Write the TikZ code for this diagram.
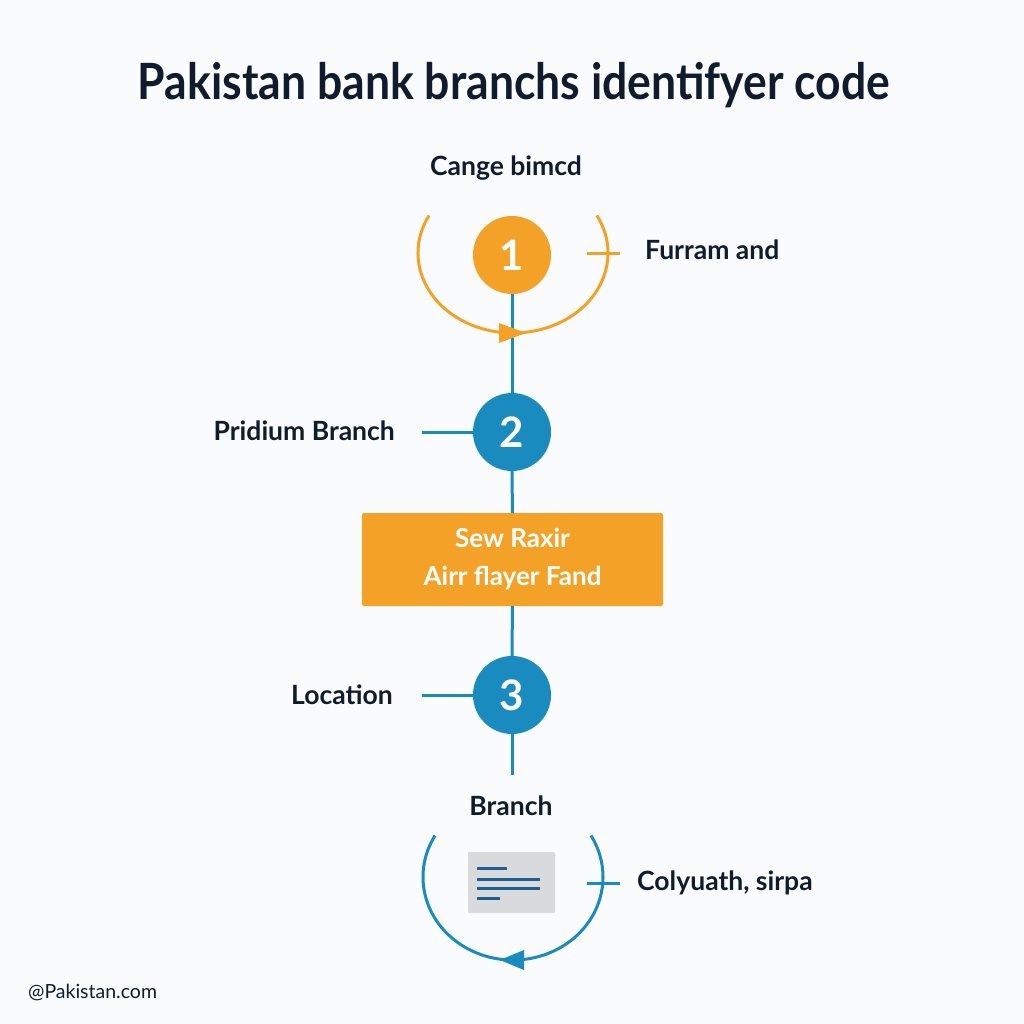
\documentclass[tikz,border=0pt]{standalone}
\usepackage{fontspec}
\setmainfont{Lato}
\usetikzlibrary{arrows.meta}
\definecolor{bg}{HTML}{FAFBFC}
\definecolor{navy}{HTML}{101C2E}
\definecolor{orng}{HTML}{F4A227}
\definecolor{blu}{HTML}{1A8BBF}
\definecolor{iconbg}{HTML}{D9DADC}
\definecolor{iconln}{HTML}{1D5F90}
\begin{document}
\begin{tikzpicture}[x=1pt,y=-1pt,
  lbl/.style={text=navy,font=\fontsize{26.5}{30}\selectfont\bfseries,inner sep=0pt},
  num/.style={circle,minimum size=78pt,inner sep=0pt,text=white,font=\fontsize{42}{44}\selectfont\bfseries},
  conn/.style={draw=blu,line width=3pt},
  oconn/.style={draw=orng,line width=3pt}]
\fill[bg] (0,0) rectangle (1024,1024);
\useasboundingbox (0,0) rectangle (1024,1024);
% title
\node[text=navy,font=\fontsize{50}{54}\selectfont\bfseries,inner sep=0pt] (title) at (514,85) {\scalebox{0.89}[1]{Pakistan bank branchs identifyer code}};
% step 1
\node[lbl,anchor=center] (l1) at (506,168) {Cange bimcd};
\node[num,fill=orng] (c1) at (512,255) {1};
\draw[oconn] (513,253) ++(208:95 and 80) arc[start angle=208,end angle=-28,x radius=95,y radius=80];
\coordinate (o1a) at (587,253);
\coordinate (o1b) at (620,253);
\draw[oconn] (o1a) -- (o1b);
\node[lbl,anchor=west] (r1) at (645,250) {Furram and};
% step 2
\node[num,fill=blu] (c2) at (512,432) {2};
\node[lbl,anchor=east] (l2) at (395,431) {Pridium Branch};
\draw[conn] (c1) -- (c2);
\draw[conn] (l2.east) ++(27,1) coordinate (l2c) -- (c2.west);
\fill[orng] (499,323) -- (526,333) -- (499,343) -- cycle;
% box
\node[fill=orng,minimum width=301pt,minimum height=93pt,inner sep=0pt,rounded corners=2pt,
  text=white,align=center,font=\fontsize{26}{38}\selectfont\bfseries] (box) at (512.5,559.5) {Sew Raxir\\Airr flayer Fand};
\draw[conn] (c2) -- (box);
% step 3
\node[num,fill=blu] (c3) at (512,695) {3};
\draw[conn] (box) -- (c3);
\node[lbl,anchor=east] (l3) at (393,695) {Location};
\draw[conn] (l3.east) ++(29,0) coordinate (l3c) -- (c3.west);
\coordinate (e3) at (512,775);
\draw[conn] (c3) -- (e3);
% branch
\node[lbl,anchor=center] (l4) at (511,806) {Branch};
\draw[conn] (513,877) ++(210:90 and 83) arc[start angle=210,end angle=-30,x radius=90,y radius=83];
\fill[blu] (500,960) -- (524,950) -- (524,970) -- cycle;
\node[fill=iconbg,minimum width=87pt,minimum height=61pt,inner sep=0pt,rounded corners=1pt] (icon) at (511.5,882.5) {};
\draw[iconln,line width=3pt] (477,868) -- (507,868);
\draw[iconln,line width=3pt] (477,879) -- (540,879);
\draw[iconln,line width=3pt] (477,888) -- (540,888);
\draw[iconln,line width=3pt] (477,898) -- (500,898);
\coordinate (o4a) at (587,883);
\coordinate (o4b) at (620,883);
\draw[conn] (o4a) -- (o4b);
\node[lbl,anchor=west] (r4) at (637,883) {Colyuath, sirpa};
% footer
\node[text=navy,font=\fontsize{19.5}{22}\selectfont,anchor=west,inner sep=0pt] (foot) at (28,992) {@Pakistan.com};
\end{tikzpicture}
\end{document}
